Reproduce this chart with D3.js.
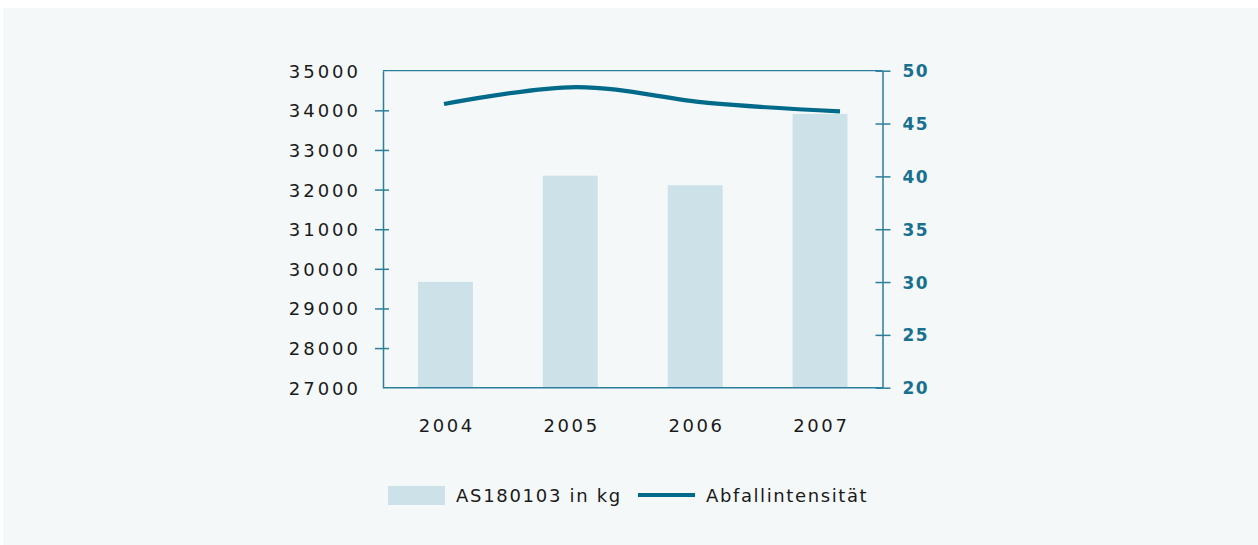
<!DOCTYPE html>
<html><head><meta charset="utf-8">
<script src="https://cdn.jsdelivr.net/npm/d3@7"></script>
<style>
html,body{margin:0;padding:0;background:#fff;}
svg{display:block;}
text{font-family:"DejaVu Sans",sans-serif;}
</style></head>
<body>
<svg id="c" width="1258" height="545"></svg>
<script>
const years = ["2004","2005","2006","2007"];
const wasteKg = [29670, 32350, 32110, 33910];
const intensity = [46.85, 48.45, 46.95, 46.15];
const leftTicks = [27000,28000,29000,30000,31000,32000,33000,34000,35000];
const rightTicks = [20,25,30,35,40,45,50];
const seriesNames = ["AS180103 in kg","Abfallintensität"];

const svg = d3.select("#c");
const W=1258,H=545;
const teal="#006a8a", axisCol="#2b7f9c", barCol="#cde1e8", rightCol="#19708f", txt="#1a1a1a";

svg.append("rect").attr("x",3).attr("y",8).attr("width",W-3).attr("height",H-8).attr("fill","#f4f8f9");

const L=383,R=882.5,T=70.7,B=387.7;
const x = d3.scaleBand().domain(years).range([L,R]).paddingInner(0.56).paddingOuter(0.28);
const xLine = d3.scalePoint().domain(years).range([444,840]);
const yL = d3.scaleLinear().domain([27000,35000]).range([B,T]);
const yR = d3.scaleLinear().domain([20,50]).range([B,T]);

// bars
svg.append("g").selectAll("rect").data(years).join("rect")
  .attr("x",d=>x(d)).attr("width",x.bandwidth())
  .attr("y",(d,i)=>yL(wasteKg[i])).attr("height",(d,i)=>B-yL(wasteKg[i]))
  .attr("fill",barCol);

// frame top & bottom
svg.append("line").attr("x1",L).attr("x2",R).attr("y1",T).attr("y2",T).attr("stroke",axisCol).attr("stroke-width",1.2);
svg.append("line").attr("x1",L).attr("x2",R).attr("y1",B).attr("y2",B).attr("stroke",axisCol).attr("stroke-width",1.5);

// left axis
const gl = svg.append("g").attr("transform",`translate(${L},0)`)
  .call(d3.axisLeft(yL).tickValues(leftTicks).tickSize(0).tickPadding(0).tickFormat(d3.format("d")));
gl.select(".domain").attr("stroke",axisCol).attr("stroke-width",1.5);
gl.selectAll(".tick").each(function(d){
  const g=d3.select(this);
  if(d!==27000 && d!==35000) g.append("line").attr("x1",-8).attr("x2",6).attr("stroke",axisCol).attr("stroke-width",1.5);
});
gl.selectAll("text").attr("x",-22).attr("fill",txt).attr("font-size",18).attr("letter-spacing","3px")
  .attr("dy","0.36em").style("font-family","DejaVu Sans");

// right axis
const gr = svg.append("g").attr("transform",`translate(${R},0)`)
  .call(d3.axisRight(yR).tickValues(rightTicks).tickSize(0).tickPadding(0));
gr.select(".domain").attr("stroke",axisCol).attr("stroke-width",1.5);
gr.selectAll(".tick").each(function(d){
  d3.select(this).append("line").attr("x1",-7).attr("x2",8).attr("stroke",axisCol).attr("stroke-width",1.5);
});
gr.selectAll("text").attr("x",20).attr("fill",rightCol).attr("font-size",17).attr("font-weight","bold")
  .attr("letter-spacing","1.4px").attr("dy","0.36em").style("font-family","DejaVu Sans");

// x labels
svg.append("g").selectAll("text").data(years).join("text")
  .attr("x",d=>x(d)+x.bandwidth()/2+1.3).attr("y",432)
  .attr("text-anchor","middle").attr("font-size",18).attr("letter-spacing","2.6px").attr("fill",txt)
  .text(d=>d);

// line
const line = d3.line().x((d,i)=>xLine(years[i])).y(d=>yR(d)).curve(d3.curveCardinal.tension(0));
svg.append("path").datum(intensity).attr("d",line).attr("fill","none")
  .attr("stroke",teal).attr("stroke-width",4.2);

// legend
const lg = svg.append("g");
lg.append("rect").attr("x",388).attr("y",486).attr("width",57).attr("height",19).attr("fill",barCol);
lg.append("text").attr("x",456).attr("y",502).attr("font-size",18).attr("letter-spacing","1.7px").attr("fill",txt).text(seriesNames[0]);
lg.append("line").attr("x1",638).attr("x2",695).attr("y1",495).attr("y2",495).attr("stroke",teal).attr("stroke-width",4);
lg.append("text").attr("x",706).attr("y",502).attr("font-size",18).attr("letter-spacing","1.6px").attr("fill",txt).text(seriesNames[1]);
</script>
</body></html>
